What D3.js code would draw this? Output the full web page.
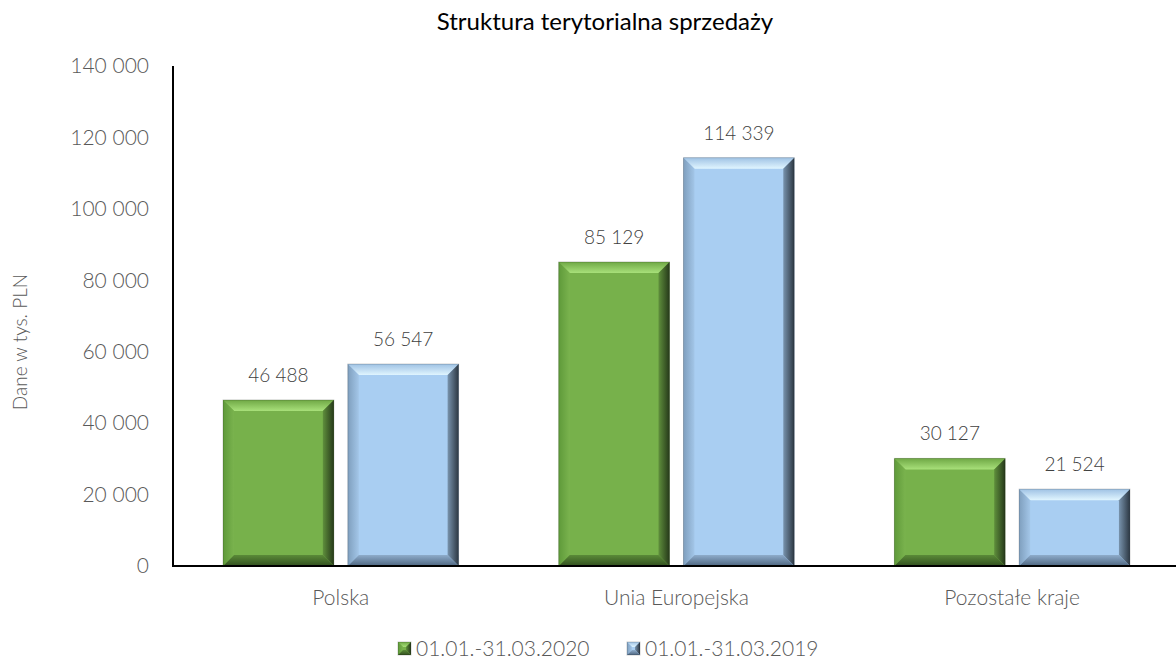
<!DOCTYPE html>
<html>
<head>
<meta charset="utf-8">
<script src="https://d3js.org/d3.v7.min.js"></script>
<style>
  body { margin: 0; background: #fff; }
  svg text { font-family: Lato, "Open Sans", sans-serif; }
</style>
</head>
<body>
<svg id="chart" width="1176" height="659"></svg>
<script>
// data
const categories = ["Polska", "Unia Europejska", "Pozostałe kraje"];
const seriesNames = ["01.01.-31.03.2020", "01.01.-31.03.2019"];
const values2020 = [46488, 85129, 30127];
const values2019 = [56547, 114339, 21524];
const yTicks = [0, 20000, 40000, 60000, 80000, 100000, 120000, 140000];

const svg = d3.select("#chart");
const plotLeft = 173, plotRight = 1180, plotTop = 66, plotBottom = 566;

// colour sets for the bevelled bars: each edge is [outer, inner]
const palettes = [
  { id: "g", face: "#77b14b",
    top: ["#6fa845", "#a8e07a"], left: ["#5f9a3a", "#7ab34e"],
    right: ["#26391a", "#5f8f3c"], bottom: ["#32501f", "#5a8a38"] },
  { id: "b", face: "#a9cef2",
    top: ["#9fc2e4", "#e0f5ff"], left: ["#7f9fbe", "#a3c6e8"],
    right: ["#2c3742", "#7893ad"], bottom: ["#4e6680", "#8eaccb"] }
];

const defs = svg.append("defs");
palettes.forEach(p => {
  // gradient runs from the outer edge of the facet to its inner edge
  const mk = (name, x1, y1, x2, y2, cols) => {
    const lg = defs.append("linearGradient").attr("id", p.id + name)
      .attr("x1", x1).attr("y1", y1).attr("x2", x2).attr("y2", y2);
    lg.append("stop").attr("offset", "0%").attr("stop-color", cols[0]);
    lg.append("stop").attr("offset", "100%").attr("stop-color", cols[1]);
  };
  mk("top", 0, 0, 0, 1, p.top);
  mk("left", 0, 0, 1, 0, p.left);
  mk("right", 1, 0, 0, 0, p.right);
  mk("bottom", 0, 1, 0, 0, p.bottom);
});

const x = d3.scaleBand().domain(categories).range([plotLeft, plotRight]);
const y = d3.scaleLinear().domain([0, 140000]).range([plotBottom, plotTop]);

const fmt = v => d3.format(",")(v).replace(/,/g, " ");

// title
svg.append("text")
  .attr("x", 605).attr("y", 30)
  .attr("text-anchor", "middle")
  .attr("font-size", 24)
  .attr("fill", "#000")
  .text("Struktura terytorialna sprzedaży");

// y axis
const yAxis = svg.append("g")
  .attr("transform", "translate(" + plotLeft + ",0)")
  .call(d3.axisLeft(y).tickValues(yTicks).tickSize(0).tickPadding(24).tickFormat(fmt));
yAxis.select(".domain").attr("stroke", "#000").attr("stroke-width", 2).attr("d", "M0," + plotTop + "V" + plotBottom);
yAxis.selectAll("text").attr("font-size", 21).attr("fill", "#595959").attr("font-weight", 300)
  .attr("font-family", "Lato, sans-serif");

svg.append("text")
  .attr("transform", "translate(27," + ((plotTop + plotBottom) / 2 + 26) + ") rotate(-90)")
  .attr("text-anchor", "middle")
  .attr("font-size", 19)
  .attr("font-weight", 300)
  .attr("fill", "#595959")
  .text("Dane w tys. PLN");

// bars
const bw = x.bandwidth() * 0.33;
const gap = 14;
const series = [values2020, values2019];

function bevelBar(g, x0, y0, w, h, p, bmax) {
  const b = Math.min(bmax, h / 2, w / 2);
  const x1 = x0 + w, y1 = y0 + h;
  g.append("rect").attr("x", x0).attr("y", y0).attr("width", w).attr("height", h).attr("fill", p.face);
  const poly = (pts, fill) => g.append("polygon").attr("points", pts.map(q => q.join(",")).join(" ")).attr("fill", fill);
  poly([[x0, y0], [x1, y0], [x1 - b, y0 + b], [x0 + b, y0 + b]], "url(#" + p.id + "top)");
  poly([[x0, y0], [x0 + b, y0 + b], [x0 + b, y1 - b], [x0, y1]], "url(#" + p.id + "left)");
  poly([[x1, y0], [x1, y1], [x1 - b, y1 - b], [x1 - b, y0 + b]], "url(#" + p.id + "right)");
  poly([[x0, y1], [x0 + b, y1 - b], [x1 - b, y1 - b], [x1, y1]], "url(#" + p.id + "bottom)");
  g.append("rect").attr("x", x0).attr("y", y0).attr("width", w).attr("height", h)
    .attr("fill", "none").attr("stroke", "rgba(0,0,0,0.2)").attr("stroke-width", 1);
}

const barsG = svg.append("g");
categories.forEach((c, i) => {
  const cx = x(c) + x.bandwidth() / 2;
  series.forEach((vals, s) => {
    const bx = s === 0 ? cx - gap / 2 - bw : cx + gap / 2;
    const by = y(vals[i]);
    bevelBar(barsG.append("g"), bx, by, bw, plotBottom - by, palettes[s], 11);
    svg.append("text")
      .attr("x", bx + bw / 2).attr("y", by - 18)
      .attr("text-anchor", "middle")
      .attr("font-size", 19)
      .attr("font-weight", 300)
      .attr("fill", "#404040")
      .text(fmt(vals[i]));
  });
});

// x axis baseline + labels
svg.append("line")
  .attr("x1", plotLeft - 1).attr("x2", plotRight).attr("y1", plotBottom).attr("y2", plotBottom)
  .attr("stroke", "#000").attr("stroke-width", 2);
categories.forEach(c => {
  svg.append("text")
    .attr("x", x(c) + x.bandwidth() / 2).attr("y", 605)
    .attr("text-anchor", "middle")
    .attr("font-size", 21)
    .attr("font-weight", 300)
    .attr("fill", "#595959")
    .text(c);
});

// legend
const legendX = [398, 627];
seriesNames.forEach((name, s) => {
  const g = svg.append("g").attr("transform", "translate(" + legendX[s] + ",642)");
  bevelBar(g, 0, 0, 13, 13, palettes[s], 5);
  g.append("text").attr("x", 18).attr("y", 14)
    .attr("font-size", 21).attr("font-weight", 300).attr("fill", "#595959")
    .text(name);
});
</script>
</body>
</html>
